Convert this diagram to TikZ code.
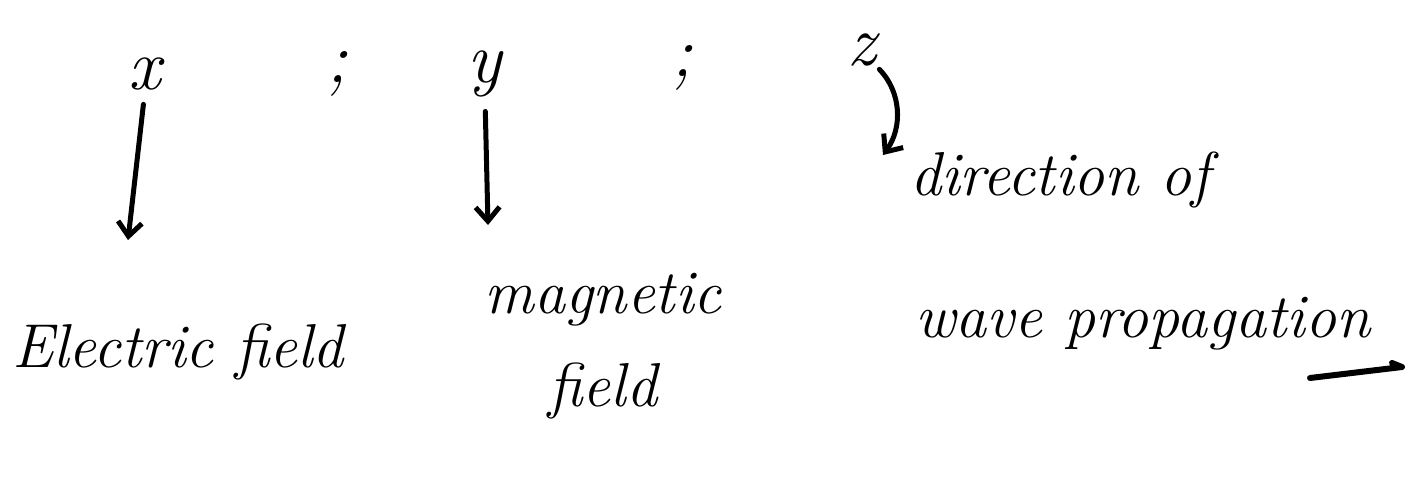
\documentclass[tikz,border=0pt]{standalone}
\usepackage{tikz}
\usetikzlibrary{arrows.meta, positioning}

\begin{document}
\begin{tikzpicture}[x=1pt, y=-1pt,
	hand/.style={font=\fontsize{62}{64}\selectfont\itshape, inner sep=0pt},
	axis/.style={font=\fontsize{72}{74}\selectfont\itshape, inner sep=0pt},
	pointer/.style={line width=5pt, line cap=round, -{Straight Barb[length=14pt, width=24pt, line width=5pt]}}]
	\useasboundingbox[fill=white] (0,0) rectangle (1420,490);
	% axis names
	\node[axis] (x) at (145,74) {x};
	\node[axis] (s1) at (337,74) {;};
	\node[axis] (y) at (485,74) {y};
	\node[axis] (s2) at (682,68) {;};
	\node[axis] (z) at (862,50) {z};
	% meanings
	\node[hand] (ef) at (178,352) {Electric field};
	\node[hand] (mag) at (603,300) {magnetic};
	\node[hand, below=36pt of mag] (mf) {field};
	\node[hand] (dir) at (1060,180) {direction of};
	\node[hand] (wave) at (1143,324) {wave propagation};
	\coordinate (xe) at (128,240);
	\coordinate (ye) at (488,225);
	\coordinate (ze) at (883,155);
	\coordinate (u1) at (1310,378);
	\coordinate (u2) at (1402,367);
	\draw[pointer, shorten <=14pt] (x.south) -- (xe);
	\draw[pointer, shorten <=14pt] (y.south) -- (ye);
	\draw[pointer, shorten <=4pt] (z.south east) to[bend left=40] (ze);
	\draw[line width=6pt, line cap=round, line join=round] (u1) -- (u2) -- ++(-10,-4);
\end{tikzpicture}
\end{document}
